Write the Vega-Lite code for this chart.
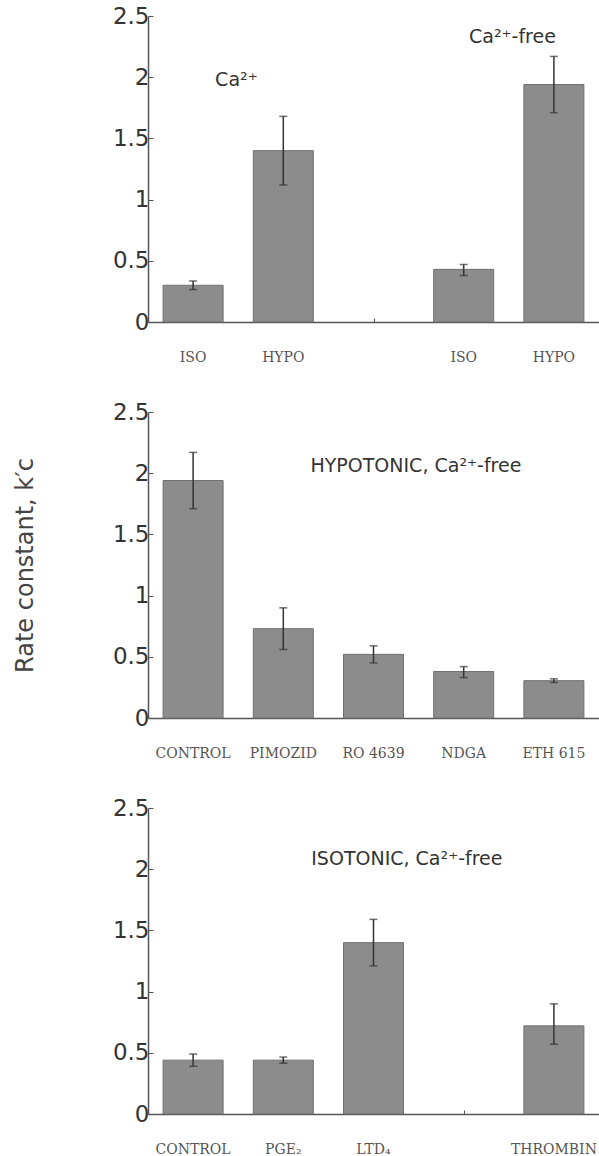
{
  "$schema": "https://vega.github.io/schema/vega-lite/v6.json",
  "padding": {"left": 13, "top": 5, "right": 0, "bottom": 0},
  "background": "white",
  "bounds": "flush",
  "spacing": 90,
  "config": {
    "view": {"stroke": null},
    "axis": {"domainColor": "#555", "domainWidth": 1.5, "tickColor": "#555", "grid": false, "labelFont": "DejaVu Sans", "labelFontSize": 23, "labelColor": "#333", "titleFont": "DejaVu Sans", "titleFontSize": 24, "titleFontWeight": "normal", "titleColor": "#444"}
  },
  "datasets": {
    "p1": [
      {"pos": 1, "label": "ISO", "value": 0.30, "lo": 0.265, "hi": 0.335},
      {"pos": 2, "label": "HYPO", "value": 1.40, "lo": 1.12, "hi": 1.68},
      {"pos": 4, "label": "ISO", "value": 0.43, "lo": 0.38, "hi": 0.47},
      {"pos": 5, "label": "HYPO", "value": 1.94, "lo": 1.71, "hi": 2.17}
    ],
    "p2": [
      {"pos": 1, "label": "CONTROL", "value": 1.94, "lo": 1.71, "hi": 2.17},
      {"pos": 2, "label": "PIMOZID", "value": 0.73, "lo": 0.56, "hi": 0.90},
      {"pos": 3, "label": "RO 4639", "value": 0.52, "lo": 0.45, "hi": 0.59},
      {"pos": 4, "label": "NDGA", "value": 0.38, "lo": 0.33, "hi": 0.42},
      {"pos": 5, "label": "ETH 615", "value": 0.305, "lo": 0.29, "hi": 0.32}
    ],
    "p3": [
      {"pos": 1, "label": "CONTROL", "value": 0.44, "lo": 0.39, "hi": 0.49},
      {"pos": 2, "label": "PGE₂", "value": 0.44, "lo": 0.415, "hi": 0.465},
      {"pos": 3, "label": "LTD₄", "value": 1.40, "lo": 1.21, "hi": 1.59},
      {"pos": 5, "label": "THROMBIN", "value": 0.72, "lo": 0.57, "hi": 0.90}
    ],
    "a1": [
      {"x": 1.48, "y": 1.98, "text": "Ca²⁺"},
      {"x": 4.54, "y": 2.33, "text": "Ca²⁺-free"}
    ],
    "a2": [
      {"x": 3.47, "y": 2.06, "text": "HYPOTONIC, Ca²⁺-free"}
    ],
    "a3": [
      {"x": 3.37, "y": 2.08, "text": "ISOTONIC, Ca²⁺-free"}
    ]
  },
  "vconcat": [
    {
      "width": 451, "height": 306,
      "data": {"name": "p1"},
      "layer": [
        {"mark": {"type": "bar", "width": 60, "color": "#8c8c8c", "stroke": "#707070", "strokeWidth": 1},
         "encoding": {
           "x": {"field": "pos", "type": "quantitative", "scale": {"domain": [0.5, 5.5], "nice": false, "zero": false, "padding": 0}, "axis": {"values": [1, 2, 3, 4, 5], "labels": false, "tickSize": -4, "title": null}},
           "y": {"field": "value", "type": "quantitative", "scale": {"domain": [0, 2.5], "nice": false}, "title": null, "axis": {"values": [0, 0.5, 1, 1.5, 2, 2.5], "format": "~g", "tickSize": -5, "labelPadding": 4}}
         }},
        {"mark": {"type": "rule", "color": "#333", "strokeWidth": 1.5},
         "encoding": {"x": {"field": "pos", "type": "quantitative", "scale": {"domain": [0.5, 5.5], "nice": false, "zero": false, "padding": 0}}, "y": {"field": "lo", "type": "quantitative", "scale": {"domain": [0, 2.5], "nice": false}, "title": null}, "y2": {"field": "hi"}}},
        {"mark": {"type": "tick", "orient": "horizontal", "size": 8, "thickness": 1.5, "color": "#333"},
         "encoding": {"x": {"field": "pos", "type": "quantitative", "scale": {"domain": [0.5, 5.5], "nice": false, "zero": false, "padding": 0}}, "y": {"field": "lo", "type": "quantitative", "scale": {"domain": [0, 2.5], "nice": false}, "title": null}}},
        {"mark": {"type": "tick", "orient": "horizontal", "size": 8, "thickness": 1.5, "color": "#333"},
         "encoding": {"x": {"field": "pos", "type": "quantitative", "scale": {"domain": [0.5, 5.5], "nice": false, "zero": false, "padding": 0}}, "y": {"field": "hi", "type": "quantitative", "scale": {"domain": [0, 2.5], "nice": false}, "title": null}}},
        {"mark": {"type": "text", "dy": 36, "font": "DejaVu Serif", "fontSize": 14, "color": "#555", "baseline": "middle"},
         "encoding": {"x": {"field": "pos", "type": "quantitative", "scale": {"domain": [0.5, 5.5], "nice": false, "zero": false, "padding": 0}}, "y": {"datum": 0, "type": "quantitative", "scale": {"domain": [0, 2.5], "nice": false}, "title": null}, "text": {"field": "label"}}},
        {"data": {"name": "a1"},
         "mark": {"type": "text", "font": "DejaVu Sans", "fontSize": 19, "color": "#333", "baseline": "middle"},
         "encoding": {"x": {"field": "x", "type": "quantitative", "scale": {"domain": [0.5, 5.5], "nice": false, "zero": false, "padding": 0}}, "y": {"field": "y", "type": "quantitative", "scale": {"domain": [0, 2.5], "nice": false}, "title": null}, "text": {"field": "text"}}}
      ]
    },
    {
      "width": 451, "height": 306,
      "data": {"name": "p2"},
      "layer": [
        {"mark": {"type": "bar", "width": 60, "color": "#8c8c8c", "stroke": "#707070", "strokeWidth": 1},
         "encoding": {
           "x": {"field": "pos", "type": "quantitative", "scale": {"domain": [0.5, 5.5], "nice": false, "zero": false, "padding": 0}, "axis": {"values": [1, 2, 3, 4, 5], "labels": false, "tickSize": -4, "title": null}},
           "y": {"field": "value", "type": "quantitative", "scale": {"domain": [0, 2.5], "nice": false}, "title": "Rate constant, k′c", "axis": {"values": [0, 0.5, 1, 1.5, 2, 2.5], "format": "~g", "tickSize": -5, "labelPadding": 4, "titlePadding": 75, "titleFontSize": 24}}
         }},
        {"mark": {"type": "rule", "color": "#333", "strokeWidth": 1.5},
         "encoding": {"x": {"field": "pos", "type": "quantitative", "scale": {"domain": [0.5, 5.5], "nice": false, "zero": false, "padding": 0}}, "y": {"field": "lo", "type": "quantitative", "scale": {"domain": [0, 2.5], "nice": false}, "title": "Rate constant, k′c"}, "y2": {"field": "hi"}}},
        {"mark": {"type": "tick", "orient": "horizontal", "size": 8, "thickness": 1.5, "color": "#333"},
         "encoding": {"x": {"field": "pos", "type": "quantitative", "scale": {"domain": [0.5, 5.5], "nice": false, "zero": false, "padding": 0}}, "y": {"field": "lo", "type": "quantitative", "scale": {"domain": [0, 2.5], "nice": false}, "title": "Rate constant, k′c"}}},
        {"mark": {"type": "tick", "orient": "horizontal", "size": 8, "thickness": 1.5, "color": "#333"},
         "encoding": {"x": {"field": "pos", "type": "quantitative", "scale": {"domain": [0.5, 5.5], "nice": false, "zero": false, "padding": 0}}, "y": {"field": "hi", "type": "quantitative", "scale": {"domain": [0, 2.5], "nice": false}, "title": "Rate constant, k′c"}}},
        {"mark": {"type": "text", "dy": 36, "font": "DejaVu Serif", "fontSize": 14, "color": "#555", "baseline": "middle"},
         "encoding": {"x": {"field": "pos", "type": "quantitative", "scale": {"domain": [0.5, 5.5], "nice": false, "zero": false, "padding": 0}}, "y": {"datum": 0, "type": "quantitative", "scale": {"domain": [0, 2.5], "nice": false}, "title": "Rate constant, k′c"}, "text": {"field": "label"}}},
        {"data": {"name": "a2"},
         "mark": {"type": "text", "font": "DejaVu Sans", "fontSize": 19, "color": "#333", "baseline": "middle"},
         "encoding": {"x": {"field": "x", "type": "quantitative", "scale": {"domain": [0.5, 5.5], "nice": false, "zero": false, "padding": 0}}, "y": {"field": "y", "type": "quantitative", "scale": {"domain": [0, 2.5], "nice": false}, "title": "Rate constant, k′c"}, "text": {"field": "text"}}}
      ]
    },
    {
      "width": 451, "height": 306,
      "data": {"name": "p3"},
      "layer": [
        {"mark": {"type": "bar", "width": 60, "color": "#8c8c8c", "stroke": "#707070", "strokeWidth": 1},
         "encoding": {
           "x": {"field": "pos", "type": "quantitative", "scale": {"domain": [0.5, 5.5], "nice": false, "zero": false, "padding": 0}, "axis": {"values": [1, 2, 3, 4, 5], "labels": false, "tickSize": -4, "title": null}},
           "y": {"field": "value", "type": "quantitative", "scale": {"domain": [0, 2.5], "nice": false}, "title": null, "axis": {"values": [0, 0.5, 1, 1.5, 2, 2.5], "format": "~g", "tickSize": -5, "labelPadding": 4}}
         }},
        {"mark": {"type": "rule", "color": "#333", "strokeWidth": 1.5},
         "encoding": {"x": {"field": "pos", "type": "quantitative", "scale": {"domain": [0.5, 5.5], "nice": false, "zero": false, "padding": 0}}, "y": {"field": "lo", "type": "quantitative", "scale": {"domain": [0, 2.5], "nice": false}, "title": null}, "y2": {"field": "hi"}}},
        {"mark": {"type": "tick", "orient": "horizontal", "size": 8, "thickness": 1.5, "color": "#333"},
         "encoding": {"x": {"field": "pos", "type": "quantitative", "scale": {"domain": [0.5, 5.5], "nice": false, "zero": false, "padding": 0}}, "y": {"field": "lo", "type": "quantitative", "scale": {"domain": [0, 2.5], "nice": false}, "title": null}}},
        {"mark": {"type": "tick", "orient": "horizontal", "size": 8, "thickness": 1.5, "color": "#333"},
         "encoding": {"x": {"field": "pos", "type": "quantitative", "scale": {"domain": [0.5, 5.5], "nice": false, "zero": false, "padding": 0}}, "y": {"field": "hi", "type": "quantitative", "scale": {"domain": [0, 2.5], "nice": false}, "title": null}}},
        {"mark": {"type": "text", "dy": 36, "font": "DejaVu Serif", "fontSize": 14, "color": "#555", "baseline": "middle"},
         "encoding": {"x": {"field": "pos", "type": "quantitative", "scale": {"domain": [0.5, 5.5], "nice": false, "zero": false, "padding": 0}}, "y": {"datum": 0, "type": "quantitative", "scale": {"domain": [0, 2.5], "nice": false}, "title": null}, "text": {"field": "label"}}},
        {"data": {"name": "a3"},
         "mark": {"type": "text", "font": "DejaVu Sans", "fontSize": 19, "color": "#333", "baseline": "middle"},
         "encoding": {"x": {"field": "x", "type": "quantitative", "scale": {"domain": [0.5, 5.5], "nice": false, "zero": false, "padding": 0}}, "y": {"field": "y", "type": "quantitative", "scale": {"domain": [0, 2.5], "nice": false}, "title": null}, "text": {"field": "text"}}}
      ]
    }
  ]
}
